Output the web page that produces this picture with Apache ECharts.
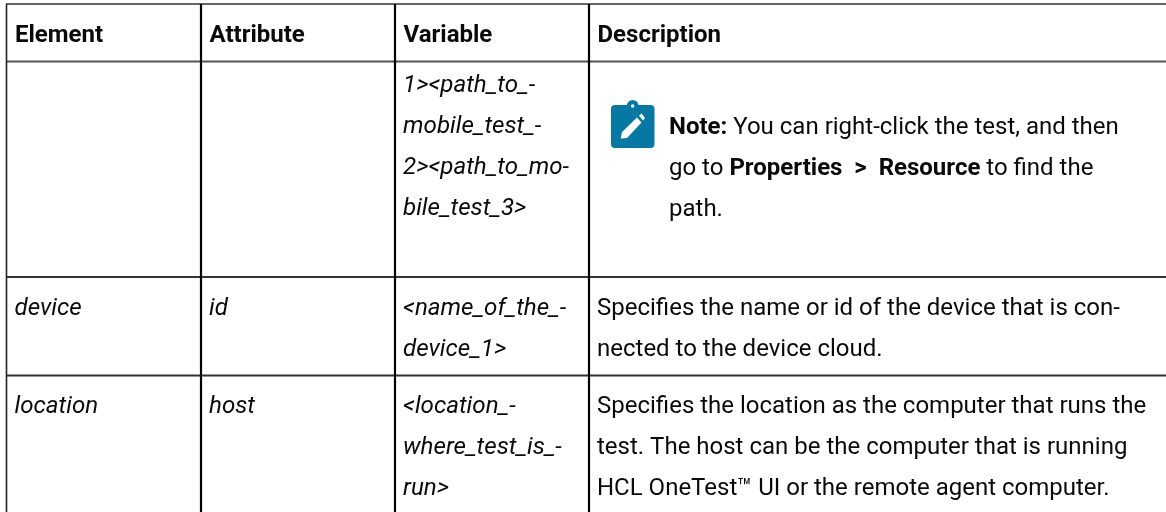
<!DOCTYPE html>
<html><head><meta charset="utf-8">
<script src="https://cdn.jsdelivr.net/npm/echarts@6/dist/echarts.min.js"></script>
<style>html,body{margin:0;padding:0;background:#fff;overflow:hidden}#c{width:1166px;height:512px}</style>
</head><body><div id="c"></div>
<script>
const headers = ['Element','Attribute','Variable','Description'];
const col1 = [[], ['device'], ['location']];
const col2 = [[], ['id'], ['host']];
const col3 = [
  ['1><path_to_-','mobile_test_-','2><path_to_mo-','bile_test_3>'],
  ['<name_of_the_-','device_1>'],
  ['<location_-','where_test_is_-','run>']
];
const col4 = [
  ['{b|Note:} You can right-click the test, and then','go to {b|Properties  >  Resource} to find the','path.'],
  ['Specifies the name or id of the device that is con-','nected to the device cloud.'],
  ['Specifies the location as the computer that runs the','test. The host can be the computer that is running','HCL OneTest™ UI or the remote agent computer.']
];
const colX = [6.5, 201, 395, 589];
const FONT = 'Roboto';
const SIZE = 24;
const INK = '#0a0a0a';
const g = [];
function line(x1,y1,x2,y2,w,c){g.push({type:'line',silent:true,shape:{x1,y1,x2,y2},style:{stroke:c,lineWidth:w}});}
function text(x,y,t,style){
  g.push({type:'text',silent:true,x,y,style:Object.assign({text:t,fill:INK,fontFamily:FONT,fontSize:SIZE,verticalAlign:'middle',align:'left',
    rich:{b:{fontWeight:700,fontFamily:FONT,fontSize:SIZE,fill:INK}}},style||{})});
}
headers.forEach((h,i)=>text(colX[i]+8.5,36,h,{fontWeight:700}));
const rowTextTop=[86,309,407];
const LH=41;
[col1,col2,col3].forEach((col,ci)=>col.forEach((rows,ri)=>rows.forEach((t,k)=>text(colX[ci]+8,rowTextTop[ri]+k*LH,t,{fontStyle:'italic',fontSize:24.15}))));
col4.forEach((rows,ri)=>rows.forEach((t,k)=>{
  const x = ri===0 ? 669 : 597;
  const y0 = ri===0 ? 128 : rowTextTop[ri];
  text(x,y0+k*LH,t);
}));
line(6,4,1166,4,2,'#666');
line(6,61.5,1166,61.5,2,'#555');
line(6,277,1166,277,2,'#333');
line(6,375.5,1166,375.5,2,'#333');
colX.forEach((x,i)=>line(x,4,x,512,i===0?1.6:2.2,i===0?'#222':'#000'));
const ICON='#0578a3';
g.push({type:'rect',silent:true,shape:{x:611,y:105,width:43.5,height:43,r:4},style:{fill:ICON}});
g.push({type:'circle',silent:true,shape:{cx:632.7,cy:106,r:6},style:{fill:ICON}});
g.push({type:'circle',silent:true,shape:{cx:632.7,cy:106,r:1.7},style:{fill:'#fff'}});
g.push({type:'polygon',silent:true,shape:{points:[[620.7,138.5],[622,132],[637,117.5],[641.5,122.5],[627,138]]},style:{fill:'#fff'}});
g.push({type:'polygon',silent:true,shape:{points:[[639,115.5],[641.5,113.5],[645,118],[643,120.5]]},style:{fill:'#fff'}});
const chart=echarts.init(document.getElementById('c'),null,{renderer:'canvas'});
chart.setOption({animation:false,backgroundColor:'#fff',graphic:{elements:g}});
</script></body></html>
